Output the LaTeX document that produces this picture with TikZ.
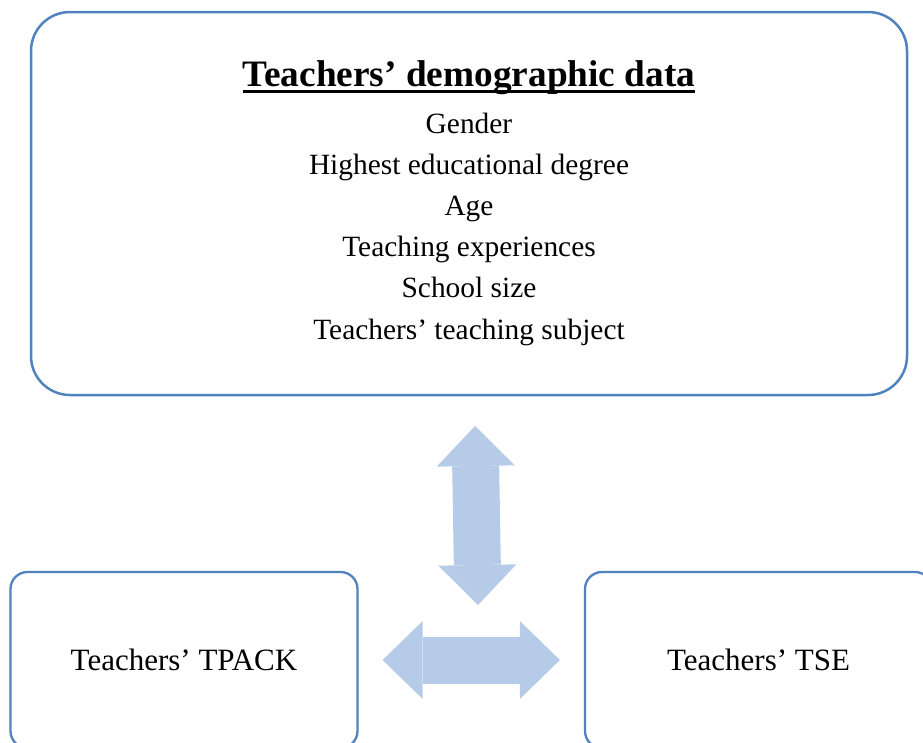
\documentclass[tikz,border=0pt]{standalone}
\usepackage{fontspec}
\setmainfont{Liberation Serif}
\usetikzlibrary{arrows.meta}
\definecolor{boxblue}{RGB}{80,130,190}
\definecolor{arrowblue}{RGB}{182,203,231}

\begin{document}
\begin{tikzpicture}[x=1pt, y=-1pt,
    every node/.style={inner sep=0pt},
    bigbox/.style={draw=boxblue, line width=2.5pt, rounded corners=39pt},
    smallbox/.style={draw=boxblue, line width=2.3pt, rounded corners=17pt, minimum width=347pt, minimum height=176pt, font=\fontsize{31}{37}\selectfont},
    item/.style={anchor=base, font=\fontsize{29.4}{35}\selectfont},
    link/.style={arrowblue, line width=47pt, {Triangle[length=40pt,width=78pt,line width=0pt]}-{Triangle[length=40pt,width=78pt,line width=0pt]}}]
  \useasboundingbox (0,0) rectangle (923,742);
  \clip (0,0) rectangle (923,742);
  \node[bigbox, minimum width=876pt, minimum height=383pt] (demo) at (469,203.5) {};
  \node[anchor=base, font=\fontsize{37.3}{44}\selectfont\bfseries] (title) at (469,86) {Teachers’ demographic data};
  \draw[line width=2.8pt] ([yshift=-5.5pt]title.base west) -- ([yshift=-5.5pt]title.base east);
  \foreach \txt [count=\i] in {Gender, Highest educational degree, Age, Teaching experiences, School size, Teachers’ teaching subject}
    \node[item] (item\i) at (469,{133+41.2*(\i-1)}) {\txt};
  \node[smallbox] (tpack) at (184,660) {Teachers’ TPACK};
  \node[smallbox] (tse) at (758.5,660) {Teachers’ TSE};
  % the two double arrows between the boxes
  \coordinate (vtop) at (475,426);
  \coordinate (vbot) at (478,605);
  \draw[link] (vtop) -- (vbot);
  \draw[link, shorten <=24pt, shorten >=24pt] (tpack) -- (tse);
\end{tikzpicture}
\end{document}
